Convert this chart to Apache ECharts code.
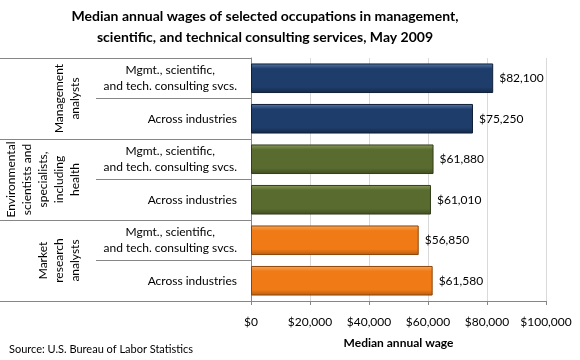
<!DOCTYPE html>
<html>
<head>
<meta charset="utf-8">
<script src="https://cdn.jsdelivr.net/npm/echarts@6/dist/echarts.min.js"></script>
<style>
html,body{margin:0;padding:0;background:#fff;}
#chart{width:580px;height:360px;}
</style>
</head>
<body>
<div id="chart"></div>
<script>
const titleText = 'Median annual wages of selected occupations in management,\nscientific, and technical consulting services, May 2009';
const groups = ['Management\nanalysts', 'Environmental\nscientists and\nspecialists,\nincluding\nhealth', 'Market\nresearch\nanalysts'];
const categories = [
  'Mgmt., scientific,\nand tech. consulting svcs.', 'Across industries',
  'Mgmt., scientific,\nand tech. consulting svcs.', 'Across industries',
  'Mgmt., scientific,\nand tech. consulting svcs.', 'Across industries'
];
const categoryGroup = [0, 0, 1, 1, 2, 2];
const wages = [82100, 75250, 61880, 61010, 56850, 61580];
const xTicks = [0, 20000, 40000, 60000, 80000, 100000];
const xAxisTitle = 'Median annual wage';
const sourceText = 'Source: U.S. Bureau of Labor Statistics';

const FONT = 'Lato, "Open Sans", sans-serif';
const groupColors = [
  ['#5577a8', '#1f3d6b', '#1f3d6b', '#132847', '#0f1f38'],
  ['#8a9c5a', '#596b2f', '#596b2f', '#3f4d20', '#323d19'],
  ['#f8a85a', '#f07b16', '#f07b16', '#b85c0e', '#8c450a']
];
function grad(c) {
  return new echarts.graphic.LinearGradient(0, 0, 0, 1, [
    {offset: 0, color: c[0]}, {offset: 0.18, color: c[1]},
    {offset: 0.8, color: c[2]}, {offset: 1, color: c[3]}
  ]);
}
const fmt = v => '$' + v.toLocaleString('en-US');

const chart = echarts.init(document.getElementById('chart'), null, {renderer: 'canvas'});
chart.setOption({
  animation: false,
  backgroundColor: '#fff',
  textStyle: {fontFamily: FONT},
  graphic: [
    {type: 'text', x: 265, y: 27, style: {text: titleText, font: 'bold 14px ' + FONT, fill: '#000', align: 'center', verticalAlign: 'middle', lineHeight: 21}},
    {type: 'text', x: 9, y: 349, style: {text: sourceText, font: '11px ' + FONT, fill: '#000', align: 'left', verticalAlign: 'middle'}}
  ],
  grid: {left: 251, right: 34, top: 58, bottom: 59, containLabel: false},
  xAxis: {
    type: 'value', min: 0, max: 100000, interval: 20000,
    axisLine: {show: true, lineStyle: {color: '#868686'}},
    axisTick: {show: true, length: 4, lineStyle: {color: '#868686'}},
    splitLine: {show: true, lineStyle: {color: '#d9d9d9'}},
    axisLabel: {margin: 15, fontSize: 12, color: '#000', fontFamily: FONT, formatter: v => xTicks.indexOf(v) >= 0 ? fmt(v) : ''},
    name: xAxisTitle, nameLocation: 'middle', nameGap: 36,
    nameTextStyle: {fontSize: 12, fontWeight: 'bold', color: '#000', fontFamily: FONT}
  },
  yAxis: [
    {
      type: 'category', data: categories, inverse: true, position: 'left',
      axisLine: {show: true, lineStyle: {color: '#868686'}},
      axisTick: {show: true, length: 155, lineStyle: {color: '#868686'}},
      splitLine: {show: false},
      axisLabel: {
        margin: 14, interval: 0,
        formatter: v => v.split('\n').map(l => '{c|' + l + '}').join('\n'),
        rich: {c: {align: 'center', fontSize: 12, lineHeight: 16, color: '#000', fontFamily: FONT}}
      }
    },
    {
      type: 'category', data: groups, inverse: true, position: 'left',
      axisLine: {show: false},
      axisTick: {show: true, length: 251, lineStyle: {color: '#868686'}},
      splitLine: {show: false},
      axisLabel: {margin: 168, rotate: 90, interval: 0, fontSize: 12, lineHeight: 16, color: '#000', fontFamily: FONT}
    }
  ],
  series: [{
    type: 'bar', yAxisIndex: 0, barCategoryGap: '27%',
    data: wages.map((v, i) => ({
      value: v,
      itemStyle: {color: grad(groupColors[categoryGroup[i]]), borderColor: groupColors[categoryGroup[i]][4], borderWidth: 1}
    })),
    label: {show: true, position: 'right', distance: 6, formatter: p => fmt(p.value), fontSize: 12, color: '#000', fontFamily: FONT}
  }]
});
</script>
</body>
</html>
